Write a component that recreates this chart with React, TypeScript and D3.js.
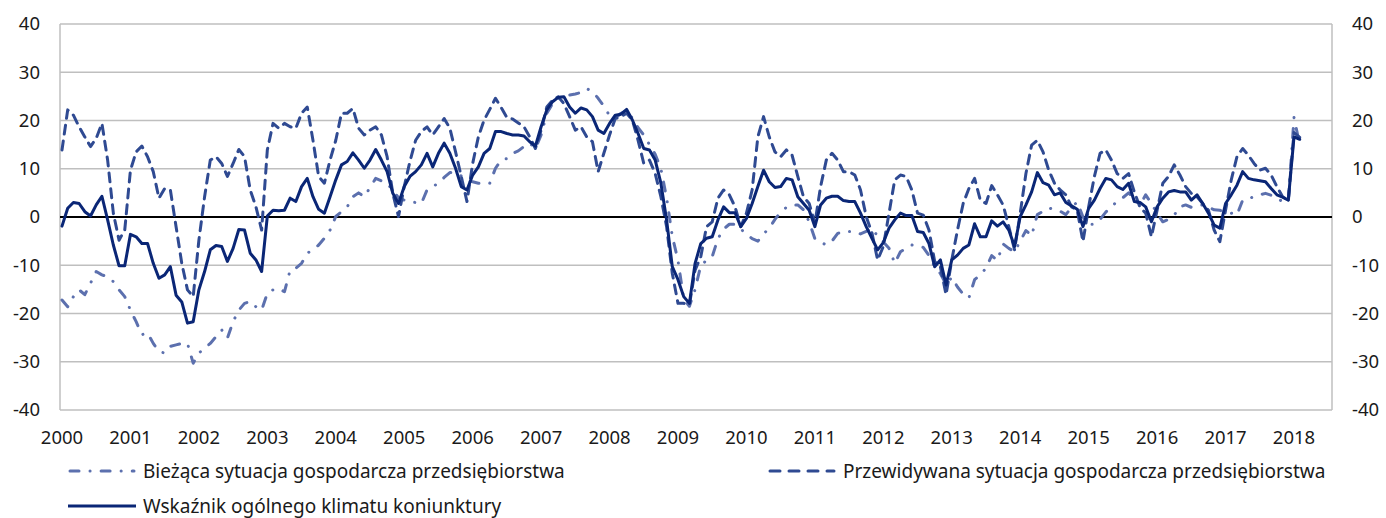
import React from "react";
import * as d3 from "d3";

// Monthly data, Jan 2000 – Feb 2018 (month index 0 = Jan 2000)
const biezaca: number[] = [
  -17.2, -18.6, -16.5, -15.1, -16.1, -13.7, -11.3, -12.0, -12.4, -13.4, -15.1, -16.5,
  -19.3, -21.7, -24.4, -24.0, -26.2, -27.9, -28.2, -26.8, -26.5, -26.2, -26.2, -30.3,
  -28.2, -27.2, -26.2, -24.8, -23.4, -25.1, -21.7, -19.3, -17.9, -17.5, -18.6, -19.3,
  -15.8, -15.1, -14.8, -15.5, -11.0, -10.6, -9.6, -7.5, -6.8, -5.8, -4.4, -2.7,
  0.1, 1.1, 2.1, 4.2, 5.0, 4.2, 6.1, 8.0, 7.5, 7.0, 5.5, 4.0,
  3.5, 3.2, 3.0, 2.8, 5.6, 6.3, 7.0, 8.2, 9.2, 9.2, 8.5, 7.5,
  7.3, 7.0, 6.8, 7.0, 10.1, 11.8, 12.1, 13.2, 13.7, 14.6, 15.3, 14.2,
  17.0, 21.5, 23.5, 24.5, 25.0, 25.3, 25.5, 25.8, 26.6, 26.0, 24.6, 23.0,
  21.0, 20.5, 21.5, 22.0, 20.5, 18.5, 17.0, 15.0, 13.0, 10.0, 4.0, -4.0,
  -9.0, -17.0, -18.5, -15.0, -10.0, -9.0, -8.2, -4.5, -2.5, -1.5, -1.5, -2.5,
  -3.5, -4.5, -5.0, -3.5, -2.3, -0.5, 1.0, 2.0, 2.5, 2.5, 1.5, -1.0,
  -4.5, -5.2, -5.8, -5.0, -3.4, -3.0, -3.0, -3.0, -3.5, -3.0, -2.3, -4.0,
  -5.2, -6.5, -9.6, -7.2, -6.5, -5.8, -6.0, -6.3, -8.0, -10.3, -11.7, -14.0,
  -12.5, -14.5, -16.0, -16.8, -13.0, -12.0, -10.6, -8.0, -9.0, -5.6, -6.5, -7.2,
  -5.0, -2.8, -3.9, 0.5, 1.2, 1.9, 1.5, 1.2, 0.5, 2.0, 3.1, 0.0,
  -1.5, -1.5, -0.5, 1.0, 2.2, 3.2, 4.0, 5.0, 3.8, 2.5, 4.6, 2.8,
  0.8, -1.0, -0.5, 0.4, 2.1, 2.5, 2.0, 2.3, 2.5, 2.0, 1.5, 1.4,
  1.0, 0.8, 0.4, 3.5, 3.8, 4.2, 4.6, 4.9, 4.5, 3.9, 3.2, 3.0,
  20.6, 15.0,
];

const przewidywana: number[] = [
  13.9, 22.2, 21.1, 18.7, 16.6, 14.6, 16.3, 19.4, 11.8, 0.8, -4.8, -2.7,
  9.7, 13.5, 14.7, 12.5, 9.4, 3.9, 5.9, 5.6, -2.0, -9.6, -15.1, -16.5,
  -4.8, 4.2, 11.8, 12.5, 11.1, 8.4, 11.1, 14.0, 12.5, 5.6, 2.1, -2.7,
  13.9, 19.4, 18.4, 19.4, 18.7, 18.4, 21.5, 22.8, 15.9, 8.4, 7.0, 11.8,
  15.9, 21.5, 21.5, 22.5, 18.4, 17.0, 18.0, 18.7, 17.0, 12.5, 4.9, 0.1,
  6.3, 11.5, 15.9, 17.7, 18.7, 17.0, 18.7, 20.4, 18.4, 13.5, 8.4, 3.2,
  11.1, 16.6, 20.1, 22.3, 24.6, 22.7, 20.6, 20.3, 19.5, 18.7, 16.6, 14.2,
  18.0, 22.8, 24.2, 24.9, 23.5, 20.8, 18.0, 18.7, 16.6, 15.6, 9.4, 13.2,
  17.0, 20.4, 20.8, 21.5, 20.1, 15.9, 11.1, 11.8, 9.0, 4.2, -2.0, -11.7,
  -17.9, -17.9, -18.2, -11.0, -8.2, -2.0, -1.0, 3.9, 5.6, 4.6, 2.1, -2.0,
  0.8, 5.6, 16.6, 20.8, 16.6, 13.5, 12.5, 13.9, 12.8, 8.4, 4.2, 2.8,
  -1.3, 6.3, 11.8, 13.2, 11.8, 9.4, 9.4, 8.7, 5.6, 0.1, -3.3, -8.9,
  -6.1, 0.8, 7.7, 8.7, 8.4, 5.6, 0.8, 0.4, -2.7, -9.2, -10.3, -16.1,
  -8.9, -2.7, 2.8, 5.9, 8.0, 3.5, 2.8, 6.5, 4.6, 2.5, -2.0, -6.8,
  0.8, 9.0, 14.9, 15.9, 13.5, 9.7, 7.0, 5.6, 4.6, 2.1, 1.4, -5.1,
  2.1, 8.4, 13.2, 13.9, 11.8, 9.0, 8.0, 9.0, 5.2, 2.0, 0.8, -4.1,
  1.4, 7.0, 8.4, 10.8, 8.7, 6.3, 4.9, 4.2, 2.8, 1.4, -2.7, -5.1,
  1.4, 7.7, 12.5, 14.2, 12.8, 11.1, 9.7, 10.1, 8.7, 6.3, 4.2, 3.5,
  17.5, 16.5,
];

const wskaznik: number[] = [
  -1.9, 1.8, 3.0, 2.8, 1.1, 0.2, 2.5, 4.3, -0.6, -5.8, -10.1, -10.1,
  -3.6, -4.1, -5.5, -5.5, -9.6, -12.7, -12.0, -10.3, -16.2, -17.6, -22.0, -21.7,
  -15.1, -11.3, -6.8, -5.9, -6.1, -9.2, -6.5, -2.6, -2.7, -7.5, -8.9, -11.3,
  0.2, 1.4, 1.3, 1.4, 3.9, 3.2, 6.3, 8.0, 4.2, 1.6, 0.8, 4.2,
  7.7, 10.8, 11.5, 13.3, 11.8, 10.1, 11.8, 14.0, 11.8, 9.4, 4.9, 2.8,
  6.3, 8.4, 9.4, 10.8, 13.2, 10.4, 13.2, 15.3, 13.2, 10.1, 6.3, 5.6,
  8.7, 10.4, 13.2, 14.2, 17.7, 17.7, 17.3, 17.0, 17.0, 16.8, 15.6, 14.7,
  18.7, 22.2, 23.9, 24.8, 24.9, 22.8, 21.5, 22.6, 22.2, 20.8, 18.0, 17.3,
  19.4, 21.1, 21.3, 22.3, 20.1, 17.3, 14.2, 13.9, 11.8, 7.0, -0.6, -10.3,
  -13.0, -16.5, -17.9, -9.6, -5.5, -4.4, -4.1, -0.6, 2.1, 0.9, 0.9, -2.0,
  -0.3, 2.8, 6.3, 9.7, 7.3, 6.1, 6.3, 8.0, 7.7, 4.2, 2.8, 1.4,
  -2.0, 2.5, 3.9, 4.3, 4.3, 3.4, 3.2, 3.2, 0.8, -2.0, -4.4, -6.8,
  -5.3, -2.3, -0.6, 0.8, 0.3, 0.3, -3.0, -3.2, -5.5, -10.3, -8.9, -14.1,
  -8.9, -7.9, -6.5, -5.8, -1.4, -4.1, -4.1, -0.8, -1.9, -1.0, -2.7, -6.1,
  0.1, 2.5, 5.2, 9.2, 7.1, 6.6, 4.6, 5.0, 3.0, 2.3, 1.6, -2.0,
  1.8, 3.5, 5.9, 8.0, 7.7, 6.3, 5.7, 7.0, 3.2, 3.0, 2.1, -1.0,
  2.1, 3.9, 5.2, 5.5, 5.2, 5.2, 3.5, 4.6, 2.8, 0.8, -1.7, -2.3,
  2.8, 4.6, 6.6, 9.4, 8.0, 7.7, 7.5, 7.3, 5.9, 4.6, 4.1, 3.5,
  16.6, 16.1,
];

const years: number[] = d3.range(2000, 2019);
const yTicks: number[] = [-40, -30, -20, -10, 0, 10, 20, 30, 40];

const seriesNames = [
  "Bieżąca sytuacja gospodarcza przedsiębiorstwa",
  "Przewidywana sytuacja gospodarcza przedsiębiorstwa",
  "Wskaźnik ogólnego klimatu koniunktury",
];

const W = 1386;
const H = 518;
const plotLeft = 60;
const plotRight = 1332;
const plotTop = 24;
const plotBottom = 410;

const C_SOLID = "#0A2676";
const C_DASH = "#2F4A92";
const C_DOT = "#5C70AE";
const FONT = "'Noto Sans', 'Open Sans', sans-serif";

export default function App() {
  const x = d3.scaleLinear().domain([0, 216]).range([62, 1294]);
  const y = d3.scaleLinear().domain([-40, 40]).range([plotBottom, plotTop]);

  const line = d3
    .line<number>()
    .x((_, i) => x(i))
    .y((d) => y(d));

  const styles = [
    { data: biezaca, color: C_DOT, dash: "9 11 0.1 11" },
    { data: przewidywana, color: C_DASH, dash: "9 7" },
    { data: wskaznik, color: C_SOLID, dash: undefined },
  ];

  return (
    <svg width={W} height={H} style={{ position: "absolute", left: 0, top: 0 }} fontFamily={FONT}>
      <rect width={W} height={H} fill="#ffffff" />
      {yTicks.map((t) => (
        <line
          key={"g" + t}
          x1={plotLeft}
          x2={plotRight}
          y1={y(t)}
          y2={y(t)}
          stroke="#BFBFBF"
          strokeWidth={1.5}
        />
      ))}
      <line x1={plotLeft} x2={plotLeft} y1={plotTop} y2={plotBottom} stroke="#BFBFBF" strokeWidth={1.5} />
      <line x1={plotRight} x2={plotRight} y1={plotTop} y2={plotBottom} stroke="#BFBFBF" strokeWidth={1.5} />
      <line x1={plotLeft} x2={plotRight} y1={y(0)} y2={y(0)} stroke="#000000" strokeWidth={2} />

      {yTicks.map((t) => (
        <text key={"l" + t} x={40} y={y(t)} dy="0.35em" textAnchor="end" fontSize={18.5} fill="#1a1a1a">
          {t}
        </text>
      ))}
      {yTicks.map((t) => (
        <text key={"r" + t} x={1352} y={y(t)} dy="0.35em" textAnchor="start" fontSize={18.5} fill="#1a1a1a">
          {t}
        </text>
      ))}
      {years.map((yr, i) => (
        <text key={"y" + yr} x={x(i * 12)} y={444} textAnchor="middle" fontSize={18.5} fill="#1a1a1a">
          {yr}
        </text>
      ))}

      {styles.map((s, i) => (
        <path
          key={"s" + i}
          d={line(s.data) || ""}
          fill="none"
          stroke={s.color}
          strokeWidth={3}
          strokeDasharray={s.dash}
          strokeLinecap="round"
          strokeLinejoin="round"
        />
      ))}

      {/* Legend */}
      <g>
        <line x1={70} x2={134} y1={471} y2={471} stroke={C_DOT} strokeWidth={3} strokeDasharray="9 11 0.1 11" strokeLinecap="round" />
        <text x={143} y={471} dy="0.35em" fontSize={19} fill="#1a1a1a">{seriesNames[0]}</text>
        <line x1={770} x2={834} y1={471} y2={471} stroke={C_DASH} strokeWidth={3} strokeDasharray="10 9" strokeLinecap="round" />
        <text x={843} y={471} dy="0.35em" fontSize={19} fill="#1a1a1a">{seriesNames[1]}</text>
        <line x1={68} x2={136} y1={506} y2={506} stroke={C_SOLID} strokeWidth={3} />
        <text x={143} y={506} dy="0.35em" fontSize={19} fill="#1a1a1a">{seriesNames[2]}</text>
      </g>
    </svg>
  );
}
